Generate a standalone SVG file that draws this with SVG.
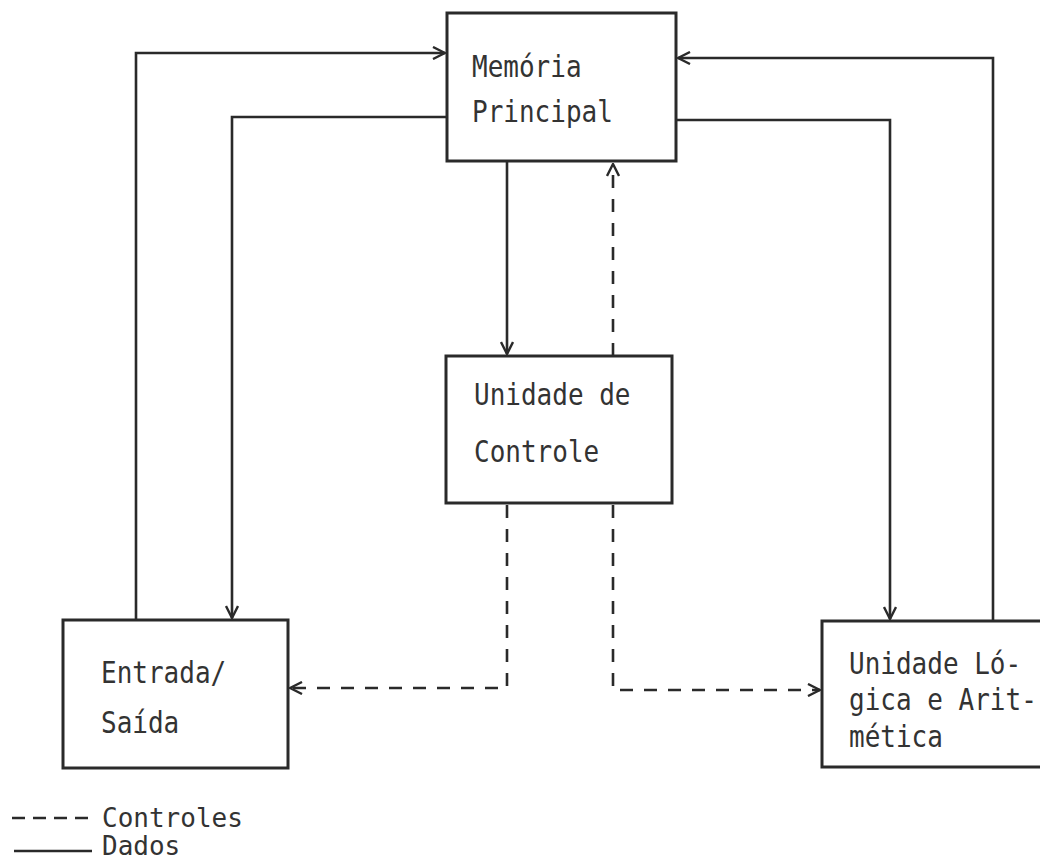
<svg xmlns="http://www.w3.org/2000/svg" width="1040" height="860" viewBox="0 0 1040 860">
<style>
.box{fill:#fff;stroke:#2a2a2a;stroke-width:3}
.t{font-family:"DejaVu Sans Mono","Liberation Mono",monospace;font-size:26px;fill:#333}
.ln{fill:none;stroke:#2a2a2a;stroke-width:2.6}
.ds{fill:none;stroke:#2a2a2a;stroke-width:2.6;stroke-dasharray:13 11}
</style>
<defs>
<marker id="ah" viewBox="0 0 14 14" refX="13" refY="7" markerWidth="14" markerHeight="14" markerUnits="userSpaceOnUse" orient="auto">
<path d="M1,1 L13,7 L1,13" fill="none" stroke="#2a2a2a" stroke-width="2.4"/>
</marker>
</defs>
<rect width="1040" height="860" fill="#fff"/>
<g id="connectors">
<path class="ln" d="M136,620 V53 H445" marker-end="url(#ah)"/>
<path class="ln" d="M447,117 H232 V618" marker-end="url(#ah)"/>
<path class="ln" d="M993,620 V58 H678" marker-end="url(#ah)"/>
<path class="ln" d="M676,120 H890 V619" marker-end="url(#ah)"/>
<path class="ln" d="M507,162 V354" marker-end="url(#ah)"/>
<path class="ds" d="M613,356 V164" marker-end="url(#ah)"/>
<path class="ds" d="M507,505 V688 H290" marker-end="url(#ah)"/>
<path class="ds" d="M613,505 V690 H820" marker-end="url(#ah)"/>
</g>
<g id="memoria">
<rect class="box" x="447" y="13" width="229" height="148"/>
<text class="t" transform="translate(472,77) scale(1,1.13)">Memória</text>
<text class="t" transform="translate(472,122) scale(1,1.13)">Principal</text>
</g>
<g id="controle">
<rect class="box" x="446" y="356" width="226" height="147"/>
<text class="t" transform="translate(474,405) scale(1,1.13)">Unidade de</text>
<text class="t" transform="translate(474,462) scale(1,1.13)">Controle</text>
</g>
<g id="es">
<rect class="box" x="63" y="620" width="225" height="148"/>
<text class="t" transform="translate(101,683) scale(1,1.13)">Entrada/</text>
<text class="t" transform="translate(101,733) scale(1,1.13)">Saída</text>
</g>
<g id="ula">
<rect class="box" x="822" y="621" width="230" height="146"/>
<text class="t" transform="translate(849,674) scale(1,1.13)">Unidade Ló-</text>
<text class="t" transform="translate(849,710) scale(1,1.13)">gica e Arit-</text>
<text class="t" transform="translate(849,747) scale(1,1.13)">mética</text>
</g>
<g id="legenda">
<path class="ds" d="M12,818 H91" style="stroke-dasharray:13 8"/>
<text class="t" x="102" y="827">Controles</text>
<path class="ln" d="M14,851 H92"/>
<text class="t" x="102" y="855">Dados</text>
</g>
</svg>
